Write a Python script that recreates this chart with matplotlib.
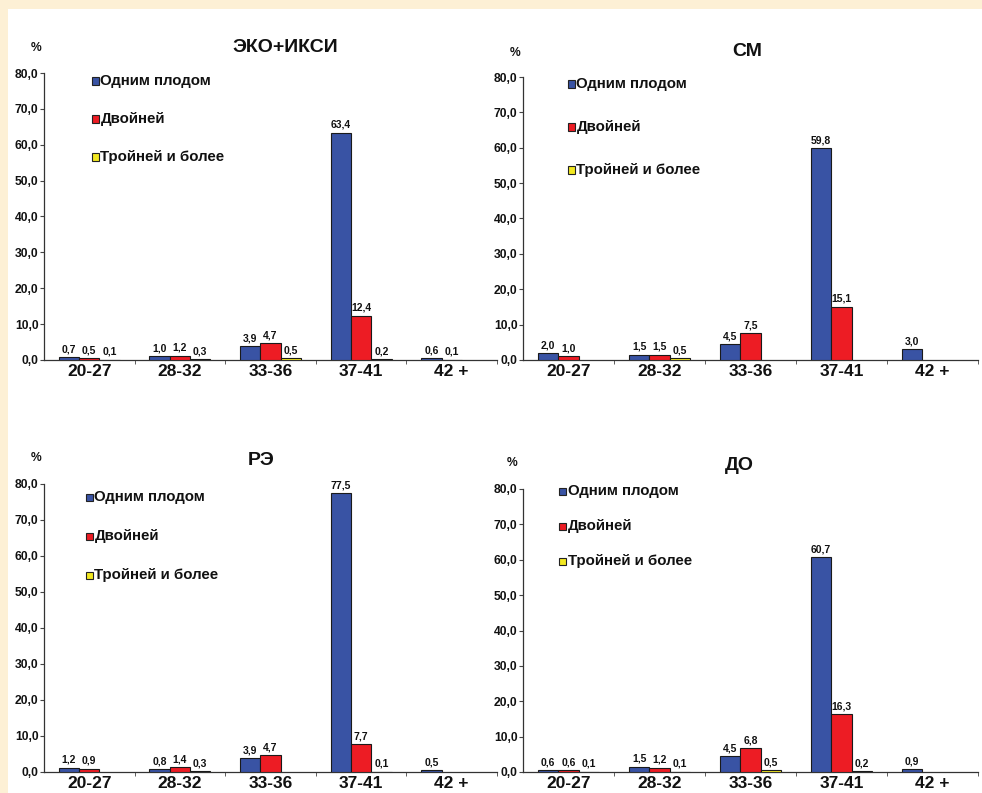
import matplotlib.pyplot as plt
from matplotlib.patches import Rectangle
from matplotlib.ticker import FuncFormatter, FixedLocator

plt.rcParams['font.family'] = ['Liberation Sans', 'DejaVu Sans']
plt.rcParams['font.weight'] = 'bold'

categories = ['20-27', '28-32', '33-36', '37-41', '42 +']
series_names = ['Одним плодом', 'Двойней', 'Тройней и более']
series_colors = ['#3953a4', '#ed1c24', '#f2e821']

# None -> no bar in that group
eko_single = [0.7, 1.0, 3.9, 63.4, 0.6]
eko_twin = [0.5, 1.2, 4.7, 12.4, 0.1]
eko_triple = [0.1, 0.3, 0.5, 0.2, None]

sm_single = [2.0, 1.5, 4.5, 59.8, 3.0]
sm_twin = [1.0, 1.5, 7.5, 15.1, None]
sm_triple = [None, 0.5, None, None, None]

re_single = [1.2, 0.8, 3.9, 77.5, 0.5]
re_twin = [0.9, 1.4, 4.7, 7.7, None]
re_triple = [None, 0.3, None, 0.1, None]

do_single = [0.6, 1.5, 4.5, 60.7, 0.9]
do_twin = [0.6, 1.2, 6.8, 16.3, None]
do_triple = [0.1, 0.1, 0.5, 0.2, None]

W, H = 982, 793
fig = plt.figure(figsize=(W / 100, H / 100), dpi=100)
fig.patch.set_facecolor('#fdf0d5')
# white sheet inside the cream border
fig.add_artist(Rectangle((8 / W, 0), 1, 1 - 9 / H, transform=fig.transFigure,
                         facecolor='white', edgecolor='none', zorder=0))


def fx(px):
    return px / W


def fy(py):
    return 1 - py / H


# title, series, axes box (left, top, right, bottom), title xy, % xy, legend x, legend rows y
panels = [
    ('ЭКО+ИКСИ', [eko_single, eko_twin, eko_triple], (44, 73, 497, 360),
     (285, 48), (36, 48), 95, [81, 119, 157]),
    ('СМ', [sm_single, sm_twin, sm_triple], (523, 77, 978, 360),
     (747, 52), (515, 53), 571, [84, 127, 170]),
    ('РЭ', [re_single, re_twin, re_triple], (44, 484, 497, 772),
     (261, 460), (36, 458), 89, [497, 536, 575]),
    ('ДО', [do_single, do_twin, do_triple], (523, 489, 978, 772),
     (739, 466), (512, 463), 562, [491, 526, 561]),
]

bar_w = 0.224
comma = FuncFormatter(lambda v, _: f'{v:.1f}'.replace('.', ','))

for title, series, box, tpos, ppos, lx, ly in panels:
    l, t, r, b = box
    ax = fig.add_axes([fx(l), fy(b), fx(r) - fx(l), fy(t) - fy(b)])
    ax.set_facecolor('none')

    for k, (vals, color) in enumerate(zip(series, series_colors)):
        for i, v in enumerate(vals):
            if v is None:
                continue
            x = i + (k - 1) * bar_w
            ax.bar(x, v, width=bar_w, color=color, edgecolor='#1a1a1a',
                   linewidth=0.8, zorder=3)
            ax.annotate(f'{v:.1f}'.replace('.', ','), (x, v), xytext=(0, 2),
                        textcoords='offset points', ha='center', va='bottom',
                        fontsize=7.5, fontweight='bold', color='#111')

    ax.set_xlim(-0.5, len(categories) - 0.5)
    ax.set_ylim(0, 80)
    ax.set_yticks(range(0, 81, 10))
    ax.yaxis.set_major_formatter(comma)
    ax.set_xticks(range(len(categories)))
    ax.set_xticklabels(categories, fontsize=12.5, fontweight='bold')
    ax.xaxis.set_minor_locator(FixedLocator([i + 0.5 for i in range(len(categories))]))
    ax.tick_params(axis='x', which='major', length=0, pad=3, colors='#111')
    ax.tick_params(axis='x', which='minor', length=3, direction='out', color='#444')
    ax.tick_params(axis='y', length=3, direction='out', color='#444', pad=1,
                   labelsize=8.7, labelcolor='#111')
    for lab in ax.get_yticklabels():
        lab.set_fontweight('bold')
    for side in ('top', 'right'):
        ax.spines[side].set_visible(False)
    for side in ('left', 'bottom'):
        ax.spines[side].set_color('#333')
        ax.spines[side].set_linewidth(0.9)

    fig.text(fx(tpos[0]), fy(tpos[1]), title, ha='center', va='center',
             fontsize=14, fontweight='bold', color='#111')
    fig.text(fx(ppos[0]), fy(ppos[1]), '%', ha='center', va='center',
             fontsize=8.7, fontweight='bold', color='#111')

    # legend: small outlined square followed by the series name
    for name, color, y in zip(series_names, series_colors, ly):
        s = 7
        fig.add_artist(Rectangle((fx(lx - s / 2), fy(y + s / 2)), s / W, s / H,
                                 transform=fig.transFigure, facecolor=color,
                                 edgecolor='#222', linewidth=0.8))
        fig.text(fx(lx + s / 2 + 2), fy(y), name, ha='left', va='center',
                 fontsize=10.8, fontweight='bold', color='#111')

fig.savefig('out.png', dpi=100, facecolor=fig.get_facecolor())
